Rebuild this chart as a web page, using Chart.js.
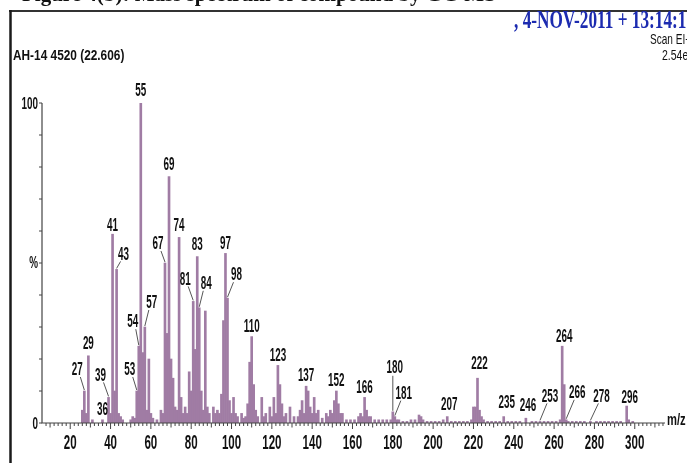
<!DOCTYPE html>
<html><head><meta charset="utf-8">
<script src="https://cdn.jsdelivr.net/npm/chart.js@4.4.1/dist/chart.umd.min.js"></script>
<style>html,body{margin:0;padding:0;background:#fff;overflow:hidden}canvas{display:block}</style>
</head><body>
<canvas id="c" width="687" height="463"></canvas>
<script>
// ---- DATA ----
const mzValues = [26,27,28,29,31,36,39,40,41,42,43,44,45,46,50,51,52,53,54,55,56,57,58,59,60,61,63,65,66,67,68,69,70,71,72,73,74,75,76,77,78,79,80,81,82,83,84,85,86,87,88,89,91,92,93,94,95,96,97,98,99,100,101,102,103,105,106,107,108,109,110,111,112,113,115,116,117,119,120,121,122,123,124,125,126,127,129,131,133,134,135,136,137,138,139,140,141,142,143,145,147,148,149,150,151,152,153,154,155,157,159,161,163,164,165,166,167,168,169,171,173,175,177,179,180,181,182,183,185,187,189,191,193,194,195,197,199,201,203,205,207,209,211,213,215,217,219,220,221,222,223,224,225,227,229,231,233,235,237,239,241,243,246,249,251,253,255,257,259,261,263,264,265,266,267,269,271,273,275,278,281,283,285,287,289,291,293,296,297,299];
const intensities = [4,10,3,21,1,1,8,3,59,10,48,3,2,1,1,2,1.5,10,24,100,22,30,4,20,3,1.5,1,4,3,50,28,77,20,14,5,4,58,8,3,5,3,16,10,38,23,52,36,10,4,35,5,3,5,3,4,3,9,32,53,39,7,3,8,3,2,3,1.5,2,6,19,27,12,4,2,8,2,3,5,2,8,3,18,12,6,2,3,5,2,2,4,7,3,11.5,10,5,3,8,3,4,1.5,3,2,4,3,7,10,6,3,3,1,1,1,2,3,2,8,4,2,2,1,1,1,1,1,3.5,2,1,1,0.5,0.5,1,1,2.5,2,1,0.5,0.5,0.5,0.5,1,2,0.5,0.5,0.5,0.5,0.5,1,5,5,14,4,2,1,0.5,0.5,0.5,0.5,2,0.5,0.5,0.5,0.5,1.5,0.5,0.5,0.5,0.5,0.5,0.5,0.5,1,24,12,1,0.5,0.5,0.5,0.5,0.5,0.5,0.5,0.5,0.5,0.5,0.5,0.5,0.5,5.3,1,0.5];
const peakLabels = [27,29,36,39,41,43,53,54,55,57,67,69,74,81,83,84,97,98,110,123,137,152,166,180,181,207,222,235,246,253,264,266,278,296];
const xTickLabels = [20,40,60,80,100,120,140,160,180,200,220,240,260,280,300];
const yTickValues = [0,50,100];
const yTickTexts = ['0','%','100'];

// ---- LAYOUT (label offsets from bar top, px) ----
const labelLayout = {
  27:[-7,-21,1],29:[0,-12,0],36:[0,-10,0],39:[-8,-22,1],41:[0,-8,0],43:[7,-15,1],
  53:[-7,-21,1],54:[-6,-24,1],55:[0,-12,0],57:[7,-24,1],67:[-7,-19,1],69:[0,-12,0],
  74:[0,-12,0],81:[-8,-22,1],83:[0,-12,0],84:[7,-24,1],97:[0,-10,0],98:[9,-23,1],
  110:[0,-10,0],123:[0,-10,0],137:[0,-10,0],152:[0,-10,0],166:[0,-10,0],
  180:[2,-44,2],181:[9,-23,1],207:[2,-12,0],222:[2,-14,0],235:[3,-14,0],246:[2,-12,0],
  253:[10,-25,1],264:[2,-9,0],266:[11,-27,1],278:[11,-25,1],296:[3,-8,0]
};

function sText(ctx, t, x, y, font, sx, align, color){
  ctx.save();
  ctx.font = font; ctx.fillStyle = color || '#111';
  ctx.textBaseline = 'middle'; ctx.textAlign = align || 'center';
  ctx.translate(x, y); ctx.scale(sx, 1);
  ctx.fillText(t, 0, 0);
  ctx.restore();
}

const deco = {
  id:'deco',
  afterDraw(chart){
    const ctx = chart.ctx, xs = chart.scales.x, ys = chart.scales.y;
    const y0 = ys.getPixelForValue(0), yTop = ys.getPixelForValue(100);
    const xl = xs.left, xr = xs.right;
    ctx.save();
    // frame
    ctx.strokeStyle = '#333'; ctx.lineWidth = 2;
    ctx.beginPath(); ctx.moveTo(9, 11); ctx.lineTo(687, 11); ctx.stroke();
    ctx.strokeStyle = '#1a1a1a'; ctx.lineWidth = 2.5;
    ctx.beginPath(); ctx.moveTo(10.5, 10); ctx.lineTo(10.5, 463); ctx.stroke();
    // clipped caption at very top
    ctx.save();
    ctx.font = 'bold 21px "Liberation Serif"'; ctx.fillStyle = '#111'; ctx.textBaseline='alphabetic';
    ctx.fillText('Figure 4(b): Mass spectrum of compound by GC-MS', 22, 1);
    ctx.restore();
    // header texts
    sText(ctx, 'AH-14 4520 (22.606)', 13, 56, 'bold 15px "Liberation Sans"', 0.79, 'left', '#111');
    sText(ctx, ', 4-NOV-2011 + 13:14:16', 514, 22, 'bold 25px "Liberation Serif"', 0.69, 'left', '#1c2bb0');
    sText(ctx, 'Scan EI+', 650, 40, '14px "Liberation Sans"', 0.72, 'left', '#111');
    sText(ctx, '2.54e6', 662, 56, '14px "Liberation Sans"', 0.75, 'left', '#111');
    // axes
    ctx.strokeStyle = '#444'; ctx.lineWidth = 1.2;
    ctx.beginPath(); ctx.moveTo(xl, yTop); ctx.lineTo(xl, y0); ctx.lineTo(xr, y0); ctx.stroke();
    // y ticks
    ctx.lineWidth = 1;
    for (let v = 0; v <= 100; v += 10){
      const py = ys.getPixelForValue(v);
      ctx.beginPath(); ctx.moveTo(xl - 3, py); ctx.lineTo(xl, py); ctx.stroke();
    }
    yTickValues.forEach((v, i) => {
      sText(ctx, yTickTexts[i], xl - 4, ys.getPixelForValue(v) + (v===50?0:1), 'bold 17px "Liberation Sans"', 0.58, 'right', '#111');
    });
    // x ticks
    for (let v = 8; v <= 314; v += 2){
      const px = xs.getPixelForValue(v);
      const len = v % 20 === 0 ? 6 : (v % 10 === 0 ? 4.5 : 3);
      ctx.beginPath(); ctx.moveTo(px, y0); ctx.lineTo(px, y0 + len); ctx.stroke();
    }
    xTickLabels.forEach(v => {
      sText(ctx, String(v), xs.getPixelForValue(v), y0 + 20, 'bold 21px "Liberation Sans"', 0.55, 'center', '#111');
    });
    sText(ctx, 'm/z', 667, y0 - 2, 'bold 16px "Liberation Sans"', 0.7, 'left', '#111');
    // peak labels
    ctx.strokeStyle = '#555'; ctx.lineWidth = 1;
    peakLabels.forEach(m => {
      const i = mzValues.indexOf(m);
      const bx = xs.getPixelForValue(m), by = ys.getPixelForValue(intensities[i]);
      const L = labelLayout[m] || [0,-10,0];
      const tx = bx + L[0], ty = by + L[1];
      if (L[2] === 1){
        const sx = tx + (L[0] < 0 ? 3 : -3), sy = ty + 7;
        ctx.beginPath(); ctx.moveTo(sx, sy); ctx.lineTo(bx, by - 1); ctx.stroke();
      } else if (L[2] === 2){
        ctx.beginPath(); ctx.moveTo(bx, ty + 8); ctx.lineTo(bx, by - 1); ctx.stroke();
      }
      sText(ctx, String(m), tx, ty, 'bold 19px "Liberation Sans"', 0.52, 'center', '#111');
    });
    ctx.restore();
  }
};

new Chart(document.getElementById('c'), {
  type: 'bar',
  data: { datasets: [{
    data: mzValues.map((m, i) => ({ x: m, y: intensities[i] })),
    backgroundColor: '#a07ca4', borderWidth: 0, barThickness: 2
  }]},
  options: {
    responsive: false, animation: false, devicePixelRatio: 1,
    layout: { padding: { top: 103, right: 22, bottom: 0, left: 0 } },
    plugins: { legend: { display: false }, tooltip: { enabled: false } },
    scales: {
      x: { type: 'linear', min: 6, max: 315, offset: false,
           grid: { display: false }, border: { display: false }, ticks: { display: false },
           afterFit(s){ s.height = 40; } },
      y: { min: 0, max: 100, grid: { display: false }, border: { display: false }, ticks: { display: false },
           afterFit(s){ s.width = 42; } }
    }
  },
  plugins: [deco]
});
</script>
</body></html>
